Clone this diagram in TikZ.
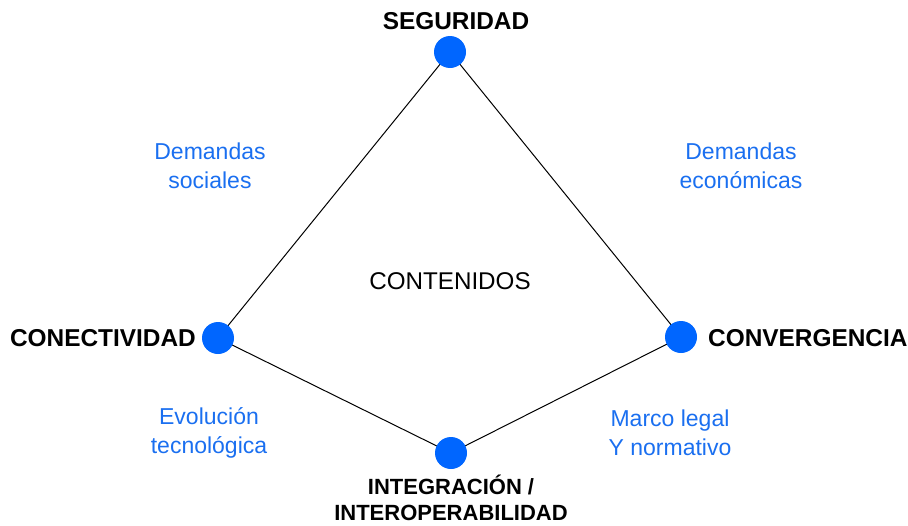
\documentclass[tikz,border=0pt]{standalone}
\usepackage{fontspec}
\setmainfont{Liberation Sans}
\definecolor{dotblue}{HTML}{0066FF}
\definecolor{txtblue}{HTML}{1A6FF0}
\begin{document}
\begin{tikzpicture}[x=1pt,y=-1pt,
  dot/.style={circle,fill=dotblue,minimum size=32pt,inner sep=0pt},
  corner/.style={font=\fontsize{24.4}{28}\selectfont\bfseries,inner sep=0pt,align=center},
  factor/.style={font=\fontsize{23}{29}\selectfont,text=txtblue,inner sep=0pt,align=center},
  edge/.style={line width=1pt,black}]
\useasboundingbox (0,0) rectangle (908,525);
\coordinate (cT) at (450,52);
\coordinate (cL) at (218,338);
\coordinate (cR) at (681,337);
\coordinate (cB) at (451,453);
\draw[edge] (cT) -- (cL);
\draw[edge] (cT) -- (cR);
\draw[edge] (cL) -- (cB);
\draw[edge] (cR) -- (cB);
\node[dot] (nT) at (cT) {};
\node[dot] (nL) at (cL) {};
\node[dot] (nR) at (cR) {};
\node[dot] (nB) at (cB) {};
\node[corner] (seg) at (456,21) {SEGURIDAD};
\node[corner,anchor=east] (con) at (196,338) {CONECTIVIDAD};
\node[corner,anchor=west] (conv) at (708,338) {CONVERGENCIA};
\node[corner,font=\fontsize{22}{26}\selectfont\bfseries] (int) at (451,498) {INTEGRACIÓN /\\INTEROPERABILIDAD};
\node[factor] (ds) at (210,166) {Demandas\\sociales};
\node[factor] (de) at (741,166) {Demandas\\económicas};
\node[factor] (et) at (209,433) {Evolución\\tecnológica};
\node[factor] (ml) at (670,433) {Marco legal\\Y normativo};
\node[font=\fontsize{24.2}{28}\selectfont,inner sep=0pt] (cont) at (450,281) {CONTENIDOS};
\end{tikzpicture}
\end{document}
